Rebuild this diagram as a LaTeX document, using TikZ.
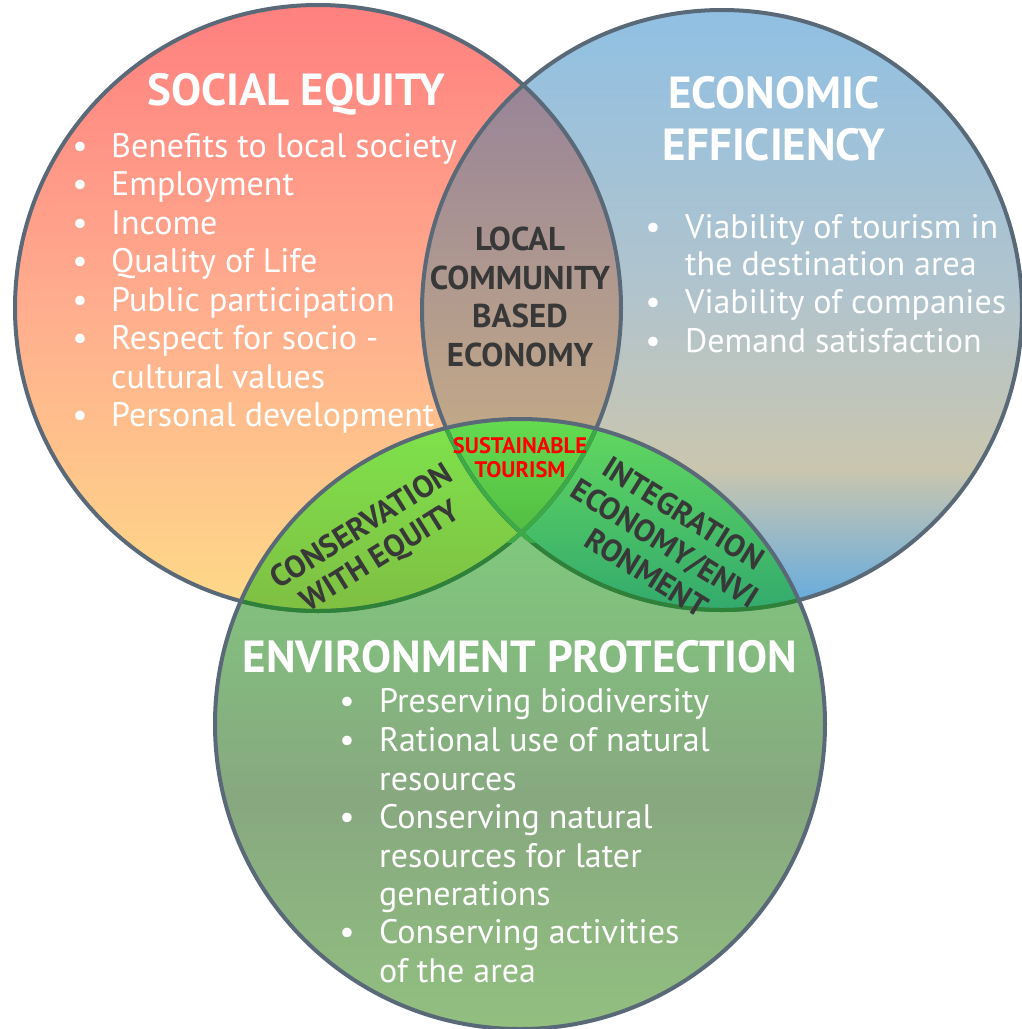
\documentclass[tikz,border=0pt]{standalone}
\usepackage{fontspec}
\setmainfont{PT Sans}
\definecolor{slate}{RGB}{90,105,120}
\definecolor{dark}{RGB}{56,56,56}
\definecolor{gline}{RGB}{46,130,56}
\definecolor{gline2}{RGB}{60,170,70}
\definecolor{redtop}{RGB}{255,127,127}
\definecolor{redmid}{RGB}{255,172,142}
\definecolor{redbot}{RGB}{254,218,136}
\definecolor{bluetop}{RGB}{143,192,228}
\definecolor{bluemid}{RGB}{178,196,204}
\definecolor{bluebeige}{RGB}{202,198,174}
\definecolor{bluegrey}{RGB}{165,190,202}
\definecolor{bluebot}{RGB}{96,170,226}
\definecolor{lenstop}{RGB}{152,132,152}
\definecolor{lensbot}{RGB}{196,170,135}
\definecolor{greentop}{RGB}{124,214,124}
\definecolor{greenmid}{RGB}{136,168,128}
\definecolor{greenbot}{RGB}{146,192,128}
\definecolor{rgtop}{RGB}{126,228,76}
\definecolor{rgbot}{RGB}{128,182,64}
\definecolor{bgtop}{RGB}{100,218,95}
\definecolor{bgbot}{RGB}{38,158,112}
\definecolor{trtop}{RGB}{100,220,80}
\definecolor{trbot}{RGB}{82,186,66}
\def\pathR{(318,308) circle[radius=303pt]}
\def\pathB{(722,310) circle[radius=300pt]}
\def\pathG{(520,724) circle[radius=305pt]}
\tikzset{
  outline/.style={draw=slate,line width=4pt},
  innerline/.style={draw=gline,line width=4pt},
  title/.style={text=white,font=\fontsize{45}{50}\selectfont\bfseries,anchor=base,inner sep=0pt},
  itemtext/.style={text=white,font=\fontsize{34}{38}\selectfont,anchor=base west,inner sep=0pt},
  bullet/.style={text=white,font=\fontsize{34}{38}\selectfont,anchor=base,inner sep=0pt},
  lenslabel/.style={text=dark,font=\fontsize{33}{38}\selectfont\bfseries,anchor=base,inner sep=0pt},
  rotlabel/.style={text=dark,font=\fontsize{31}{35}\selectfont\bfseries,align=center,inner sep=0pt},
  core/.style={text=red,font=\fontsize{22.5}{24}\selectfont\bfseries,anchor=base,inner sep=0pt}
}
\begin{document}
\begin{tikzpicture}[x=1pt,y=-1pt]
\useasboundingbox (0,0) rectangle (1021,1029);
% red circle
\begin{scope}
\clip \pathR;
\shade[top color=redtop,bottom color=redmid] (0,0) rectangle (1021,300);
\shade[top color=redmid,bottom color=redbot] (0,299) rectangle (1021,615);
\end{scope}
% blue circle
\begin{scope}
\clip \pathB;
\shade[top color=bluetop,bottom color=bluemid] (0,0) rectangle (1021,300);
\shade[top color=bluemid,bottom color=bluebeige] (0,299) rectangle (1021,470);
\shade[top color=bluebeige,bottom color=bluebot] (0,469) rectangle (1021,612);
\end{scope}
% lens red-blue
\begin{scope}
\clip \pathR; \clip \pathB;
\shade[top color=lenstop,bottom color=lensbot] (400,80) rectangle (640,450);
\end{scope}
% green circle
\begin{scope}
\clip \pathG;
\shade[top color=greentop,bottom color=greenmid] (0,415) rectangle (1021,800);
\shade[top color=greenmid,bottom color=greenbot] (0,799) rectangle (1021,1031);
\end{scope}
% red-green
\begin{scope}
\clip \pathG; \clip \pathR;
\shade[top color=rgtop,bottom color=rgbot] (200,415) rectangle (560,660);
\end{scope}
% blue-green
\begin{scope}
\clip \pathG; \clip \pathB;
\shade[top color=bgtop,bottom color=bgbot] (480,415) rectangle (830,660);
\end{scope}
% triple
\begin{scope}
\clip \pathG; \clip \pathR; \clip \pathB;
\shade[top color=trtop,bottom color=trbot] (420,415) rectangle (620,545);
\end{scope}
% outlines
\path[outline] \pathR;
\path[outline] \pathB;
\begin{scope}
\clip \pathG;
\path[innerline] \pathR;
\path[innerline] \pathB;
\end{scope}
\begin{scope}
\clip \pathG; \clip (420,415) rectangle (620,542);
\path[draw=gline2,line width=4pt] \pathR;
\path[draw=gline2,line width=4pt] \pathB;
\end{scope}
\path[outline] \pathG;

% Social equity
\node[title] (st) at (296,105) {SOCIAL EQUITY};
\foreach \n/\y/\t in {s1/157/Benefits to local society, s2/195/Employment, s3/234/Income, s4/272/Quality of Life, s5/311/Public participation, s6/349/Respect for socio -, s8/426/Personal development}{
  \node[bullet] (b\n) at (80,\y) {•};
  \node[itemtext] (\n) at (111,\y) {\t};
}
\node[itemtext] (s7) at (111,388) {cultural values};

% Economic efficiency
\node[title] (et1) at (774,108) {ECONOMIC};
\node[title] (et2) at (774,160) {EFFICIENCY};
\foreach \n/\y/\t in {e1/238/Viability of tourism in, e3/313/Viability of companies, e4/352/Demand satisfaction}{
  \node[bullet] (b\n) at (653,\y) {•};
  \node[itemtext] (\n) at (685,\y) {\t};
}
\node[itemtext] (e2) at (685,275) {the destination area};

% Local community based economy
\node[lenslabel] (l1) at (520,250) {LOCAL};
\node[lenslabel] (l2) at (520,289) {COMMUNITY};
\node[lenslabel] (l3) at (520,327) {BASED};
\node[lenslabel] (l4) at (520,366) {ECONOMY};

% Sustainable tourism
\node[core] (c1) at (520,453) {SUSTAINABLE};
\node[core] (c2) at (520,477) {TOURISM};

% Conservation with equity
\node[rotlabel,rotate=32] (cw) at (372,543) {CONSERVATION\\WITH EQUITY};
% Integration
\node[rotlabel,rotate=-32] (ie) at (665,543) {INTEGRATION\\ECONOMY/ENVI\\RONMENT};

% Environment protection
\node[title] (gt) at (520,672) {ENVIRONMENT PROTECTION};
\foreach \n/\y/\t in {g1/712/Preserving biodiversity, g2/751/Rational use of natural, g4/828/Conserving natural, g7/943/Conserving activities}{
  \node[bullet] (b\n) at (347,\y) {•};
  \node[itemtext] (\n) at (379,\y) {\t};
}
\node[itemtext] (g3) at (379,790) {resources};
\node[itemtext] (g5) at (379,867) {resources for later};
\node[itemtext] (g6) at (379,905) {generations};
\node[itemtext] (g8) at (379,982) {of the area};
\end{tikzpicture}
\end{document}
